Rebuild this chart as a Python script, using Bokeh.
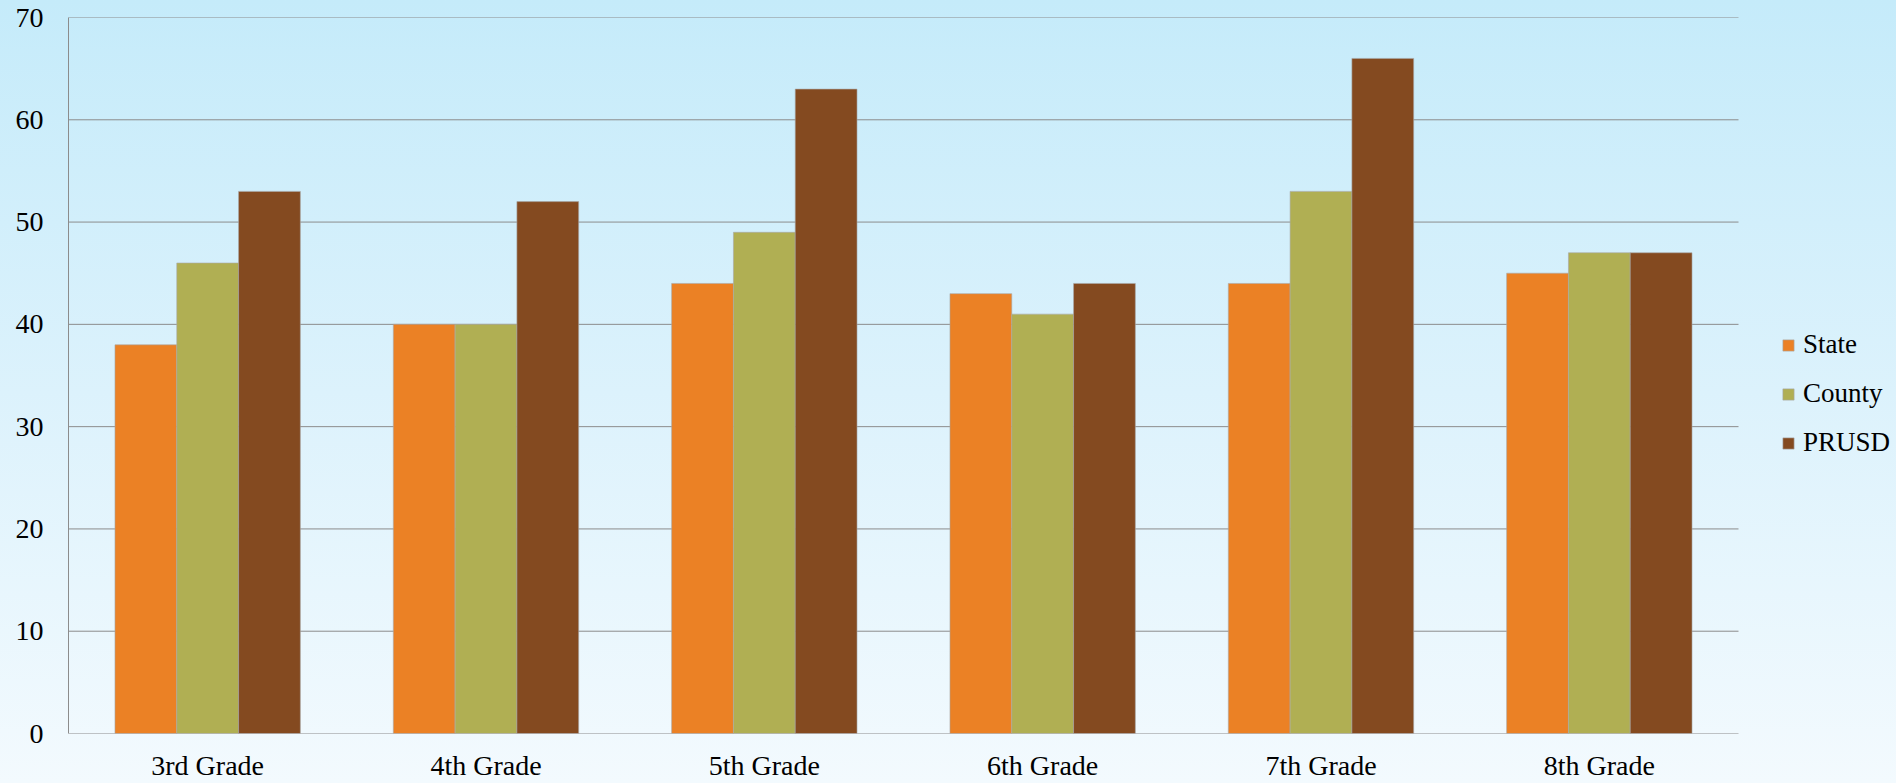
from bokeh.plotting import figure
from bokeh.models import ColumnDataSource, Range1d, FixedTicker, Legend, LegendItem
from bokeh.transform import dodge
from bokeh.embed import file_html
from bokeh.resources import INLINE

grades = ["3rd Grade", "4th Grade", "5th Grade", "6th Grade", "7th Grade", "8th Grade"]
state = [38, 40, 44, 43, 44, 45]
county = [46, 40, 49, 41, 53, 47]
prusd = [53, 52, 63, 44, 66, 47]
series_names = ["State", "County", "PRUSD"]
colors = ["#EB8125", "#B0AF53", "#844A20"]
y_ticks = [0, 10, 20, 30, 40, 50, 60, 70]

FONT = "Liberation Serif"

W, H = 1896, 783
LEFT, TOP, BOTTOM = 68, 17, 50
PLOT_W = 1670                    # width of the category area in px
n = len(grades)
xpos = [i + 0.5 for i in range(n)]
x_end = n * (W - LEFT) / PLOT_W   # extra room on the right for the legend

src = ColumnDataSource(dict(x=xpos, grade=grades, State=state, County=county, PRUSD=prusd))

p = figure(width=W, height=H, x_range=Range1d(0, x_end), y_range=Range1d(0, 70),
           output_backend="svg", toolbar_location=None,
           min_border_left=LEFT, min_border_right=0, min_border_top=TOP, min_border_bottom=BOTTOM)

p.styles = {"background": "linear-gradient(to bottom, #C5EBFA 0%, #DCF2FC 50%, #F3FAFE 100%)"}
p.border_fill_color = None
p.background_fill_color = None
p.outline_line_color = None

# horizontal grid lines limited to the category area
p.segment(x0=[0] * len(y_ticks), x1=[n] * len(y_ticks), y0=y_ticks, y1=y_ticks,
          line_color="#8C8C8C", line_width=1)

bw = 0.222
items = []
for i, (name, col) in enumerate(zip(series_names, colors)):
    r = p.vbar(x=dodge("x", (i - 1) * bw), top=name, width=bw,
               source=src, fill_color=col, line_color="#A8A8A8", line_alpha=0.6, line_width=1)
    items.append(LegendItem(label=name, renderers=[r]))

legend = Legend(items=items, location=(PLOT_W + 43, 275), orientation="vertical",
                glyph_width=14, glyph_height=14, label_standoff=8, label_height=28,
                spacing=18, padding=0, margin=0,
                label_text_font=FONT, label_text_font_size="27px", label_text_color="#000000",
                background_fill_alpha=0, border_line_color=None)
p.add_layout(legend, "center")

p.xgrid.grid_line_color = None
p.ygrid.grid_line_color = None
p.yaxis.ticker = FixedTicker(ticks=y_ticks)
p.xaxis.ticker = FixedTicker(ticks=xpos)
p.xaxis.major_label_overrides = {x: g for x, g in zip(xpos, grades)}

for ax in (p.xaxis[0], p.yaxis[0]):
    ax.axis_line_color = "#8C8C8C"
    ax.axis_line_width = 1
    ax.major_tick_line_color = None
    ax.minor_tick_line_color = None
    ax.major_tick_out = 0
    ax.major_tick_in = 0
    ax.minor_tick_out = 0
    ax.minor_tick_in = 0
    ax.major_label_text_font = FONT
    ax.major_label_text_font_size = "28px"
    ax.major_label_text_color = "#000000"
p.xaxis.axis_line_color = None

p.yaxis.major_label_standoff = 25
p.xaxis.major_label_standoff = 16

open("out.html", "w").write(file_html(p, INLINE))
